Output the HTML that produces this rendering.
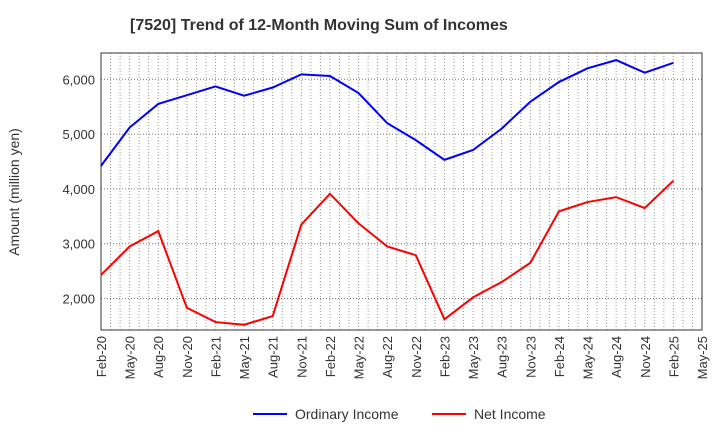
<!DOCTYPE html>
<html><head><meta charset="utf-8"><style>
body{margin:0;background:#fff;font-family:"Liberation Sans",sans-serif}
</style></head><body>
<svg width="720" height="440" xmlns="http://www.w3.org/2000/svg">
<text x="130" y="30" font-size="16" font-weight="bold" fill="#333">[7520]  Trend of 12-Month Moving Sum of Incomes</text>
<g id="grid"></g>
<g id="axes"></g>
<g id="series"></g>
<text transform="translate(19,192) rotate(-90)" text-anchor="middle" font-size="14" fill="#333">Amount (million yen)</text>
<g>
<line x1="253" y1="414" x2="287" y2="414" stroke="#0000ff" stroke-width="2"/>
<text x="295" y="419" font-size="14" fill="#333">Ordinary Income</text>
<line x1="432" y1="414" x2="466" y2="414" stroke="#ff0000" stroke-width="2"/>
<text x="474" y="419" font-size="14" fill="#333">Net Income</text>
</g>
</svg>
<script>
const xLabels=["Feb-20","May-20","Aug-20","Nov-20","Feb-21","May-21","Aug-21","Nov-21","Feb-22","May-22","Aug-22","Nov-22","Feb-23","May-23","Aug-23","Nov-23","Feb-24","May-24","Aug-24","Nov-24","Feb-25","May-25"];
const yTicks=[2000,3000,4000,5000,6000];
const ordinaryIncome=[4420,5120,5550,5710,5870,5700,5850,6090,6060,5750,5200,4890,4530,4710,5100,5590,5950,6200,6350,6120,6300];
const netIncome=[2430,2950,3230,1830,1570,1520,1680,3350,3910,3370,2950,2790,1620,2020,2300,2650,3590,3760,3850,3650,4150];
const L=101,R=702,T=53,B=330;
const NS="http://www.w3.org/2000/svg";
const xs=i=>L+i*(R-L)/(xLabels.length-1);
const ys=v=>79.3+(6000-v)*0.0548;
function mk(tag,attrs,parent){const e=document.createElementNS(NS,tag);for(const k in attrs)e.setAttribute(k,attrs[k]);document.getElementById(parent).appendChild(e);return e;}
for(let m=1;m<(xLabels.length-1)*3;m++){const x=L+m*(R-L)/((xLabels.length-1)*3);
const g=mk('line',{x1:x,x2:x,y1:T,y2:B,stroke:'#999','stroke-width':1,'stroke-dasharray':'1,2'},'grid');

}
yTicks.forEach(v=>{const y=ys(v);
const g=mk('line',{x1:L,x2:R,y1:y,y2:y,stroke:'#777','stroke-width':1,'stroke-dasharray':'1,2'},'grid');


const t=mk('text',{x:L-6,y:y+5,'text-anchor':'end','font-size':13,fill:'#333'},'axes');t.textContent=v.toLocaleString('en-US');

});
const f=mk('rect',{x:L,y:T,width:R-L,height:B-T,fill:'none',stroke:'#333','stroke-width':1},'axes');


xLabels.forEach((s,i)=>{const x=xs(i);
const t=mk('text',{transform:`translate(${x+5},${B+6}) rotate(-90)`,'text-anchor':'end','font-size':13,fill:'#333'},'axes');t.textContent=s;

});
function line(data,color,name){const p=mk('polyline',{points:data.map((v,i)=>xs(i)+','+ys(v)).join(' '),fill:'none',stroke:color,'stroke-width':2},'series');

}
line(ordinaryIncome,'#0000ff','ordinary-income-line');
line(netIncome,'#ff0000','net-income-line');
</script>
</body></html>
